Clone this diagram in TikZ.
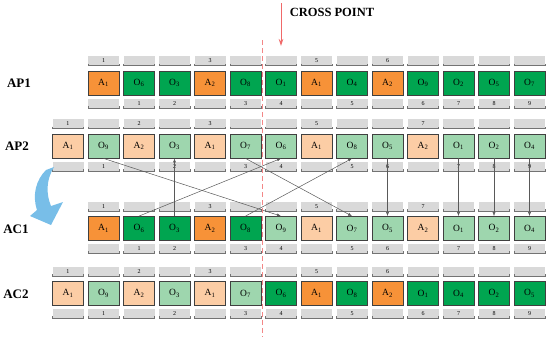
\documentclass[tikz,border=0pt]{standalone}
\usepackage{fontspec}
\setmainfont{Liberation Serif}
\definecolor{accOrange}{RGB}{247,146,56}
\definecolor{accGreen}{RGB}{0,165,80}
\definecolor{accOrangeL}{RGB}{252,205,165}
\definecolor{accGreenL}{RGB}{158,214,174}
\definecolor{accBar}{RGB}{217,217,217}
\definecolor{accRed}{RGB}{240,105,105}
\definecolor{accBlue}{RGB}{120,190,232}
\usetikzlibrary{arrows.meta,positioning}

\begin{document}
\begin{tikzpicture}[x=1pt, y=-1pt,
  gene/.style={draw=black!75, line width=0.8pt, minimum width=31pt,
               minimum height=24pt, inner sep=0pt, font=\fontsize{9.5}{10}\selectfont},
  aDark/.style={fill=accOrange},
  oDark/.style={fill=accGreen},
  aLight/.style={fill=accOrangeL},
  oLight/.style={fill=accGreenL},
  bar/.style={fill=accBar, minimum width=31pt, minimum height=9pt,
              inner sep=0pt, font=\fontsize{6}{6}\selectfont},
  brk/.style={draw=black!55, line width=0.6pt},
  row/.style={font=\fontsize{13}{13}\selectfont\bfseries},
  link/.style={draw=black!65, line width=0.5pt, -{Latex[length=4pt,width=3pt]}}
]
  \useasboundingbox (0,0) rectangle (550,343);

  % chromosomes: prefix / first centre x / centre y / genes
  \foreach \r/\xa/\ya/\genes in {
    ap1/103.5/83/{A/1/aDark/1/{}, O/6/oDark/{}/1, O/3/oDark/{}/2, A/2/aDark/3/{},
                  O/8/oDark/{}/3, O/1/oDark/{}/4, A/1/aDark/5/{}, O/4/oDark/{}/5,
                  A/2/aDark/6/{}, O/9/oDark/{}/6, O/2/oDark/{}/7, O/5/oDark/{}/8,
                  O/7/oDark/{}/9},
    ap2/68/146/{A/1/aLight/1/{}, O/9/oLight/{}/1, A/2/aLight/2/{}, O/3/oLight/{}/2,
                A/1/aLight/3/{}, O/7/oLight/{}/3, O/6/oLight/{}/4, A/1/aLight/5/{},
                O/8/oLight/{}/5, O/5/oLight/{}/6, A/2/aLight/7/{}, O/1/oLight/{}/7,
                O/2/oLight/{}/8, O/4/oLight/{}/9},
    ac1/103.5/228.5/{A/1/aDark/1/{}, O/6/oDark/{}/1, O/3/oDark/{}/2, A/2/aDark/3/{},
                     O/8/oDark/{}/3, O/9/oLight/{}/4, A/1/aLight/5/{}, O/7/oLight/{}/5,
                     O/5/oLight/{}/6, A/2/aLight/7/{}, O/1/oLight/{}/7, O/2/oLight/{}/8,
                     O/4/oLight/{}/9},
    ac2/68/293.5/{A/1/aLight/1/{}, O/9/oLight/{}/1, A/2/aLight/2/{}, O/3/oLight/{}/2,
                  A/1/aLight/3/{}, O/7/oLight/{}/3, O/6/oDark/{}/4, A/1/aDark/5/{},
                  O/8/oDark/{}/5, A/2/aDark/6/{}, O/1/oDark/{}/6, O/4/oDark/{}/7,
                  O/2/oDark/{}/8, O/5/oDark/{}/9}} {
    \foreach \g/\i/\s/\u/\d [count=\k from 0] in \genes {
      \node[gene, \s] (\r-\k) at ({\xa+35.5*\k}, \ya) {\g\textsubscript{\i}};
      \node[bar, above=5pt of \r-\k] (\r-\k-t) {\u};
      \node[bar, below=3pt of \r-\k] (\r-\k-b) {\d};
      \draw[brk] ([yshift=2pt]\r-\k-t.south west) -- (\r-\k-t.south west)
                 -- (\r-\k-t.south east) -- ([yshift=2pt]\r-\k-t.south east);
      \draw[brk] ([yshift=2pt]\r-\k-b.south west) -- (\r-\k-b.south west)
                 -- (\r-\k-b.south east) -- ([yshift=2pt]\r-\k-b.south east);
    }
  }

  \node[row] (lab-ap1) at (19,83)    {AP1};
  \node[row] (lab-ap2) at (17,146)   {AP2};
  \node[row] (lab-ac1) at (16,229)   {AC1};
  \node[row] (lab-ac2) at (16,294)   {AC2};

  % crossing genes
  \draw[link] (ap2-1.south)  -- (ac1-5.north);
  \draw[link] (ac1-2.north)  -- (ap2-3.south);
  \draw[link] (ac1-1.north)  -- (ap2-6.south);
  \draw[link] (ap2-5.south)  -- (ac1-7.north);
  \draw[link] (ac1-4.north)  -- (ap2-8.south);
  \draw[link] (ap2-9.south)  -- (ac1-8.north);
  \draw[link] (ap2-11.south) -- (ac1-10.north);
  \draw[link] (ap2-12.south) -- (ac1-11.north);
  \draw[link] (ap2-13.south) -- (ac1-12.north);

  % cross point
  \node[font=\fontsize{12.5}{13}\selectfont\bfseries] (cp) at (332,12) {CROSS POINT};
  \coordinate (cp-top) at (281,3);
  \coordinate (cp-tip) at (281,46);
  \draw[accRed, line width=1pt, -{Stealth[length=7pt,width=4.5pt]}] (cp-top) -- (cp-tip);
  \coordinate (cut-top) at (262.5,40);
  \coordinate (cut-bot) at (262.5,337);
  \draw[accRed!80, line width=0.8pt, dash pattern=on 5pt off 3pt] (cut-top) -- (cut-bot);

  % blue turn arrow
  \fill[accBlue] (46,170) .. controls (36,180) and (32,195) .. (37,210)
    -- (30,216) -- (51,225) -- (63,202) -- (51,206)
    .. controls (46,194) and (46,180) .. (54,167) -- cycle;
\end{tikzpicture}
\end{document}
